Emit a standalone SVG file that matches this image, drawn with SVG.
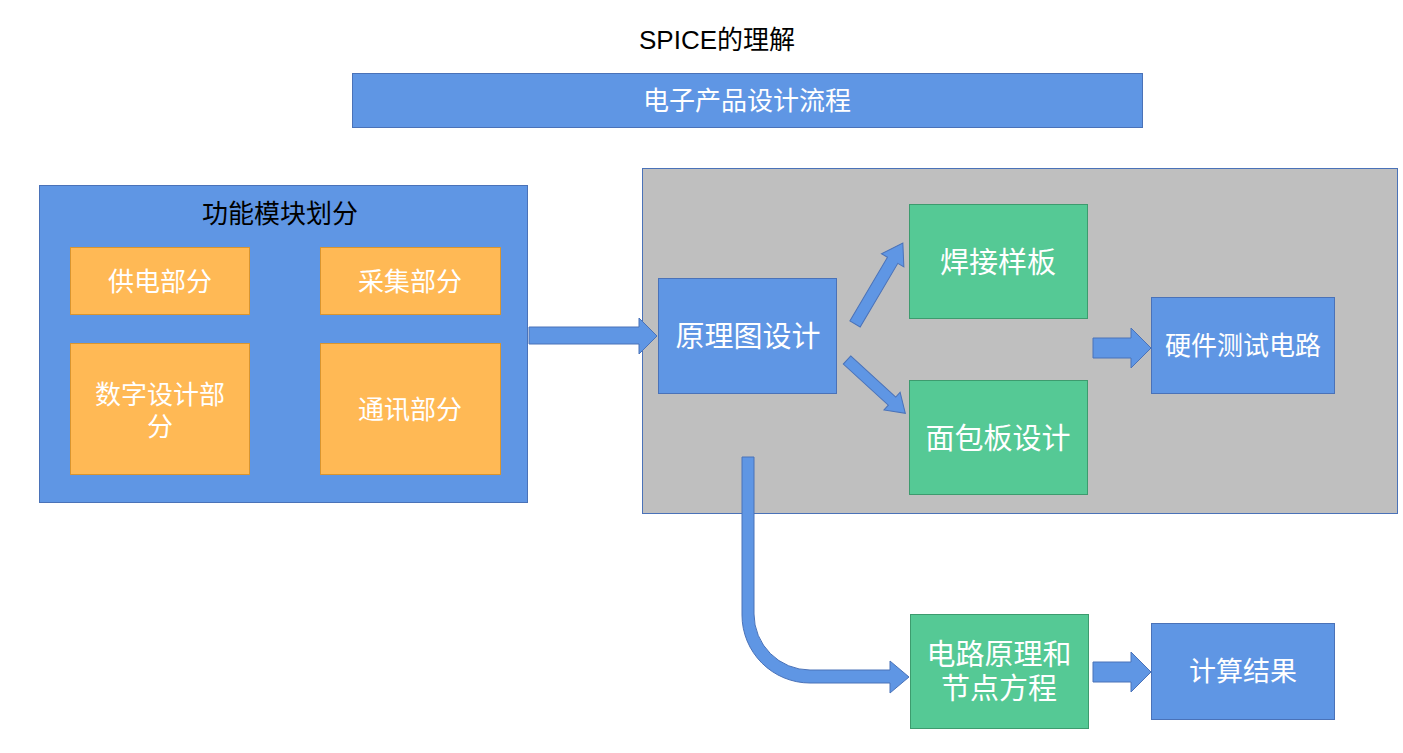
<svg xmlns="http://www.w3.org/2000/svg" width="1403" height="753" viewBox="0 0 1403 753">
<style>
.blue{fill:#5f96e4;stroke:#4a72b8;stroke-width:1}
.orange{fill:#ffb955;stroke:#d9952f;stroke-width:1}
.green{fill:#55c995;stroke:#3d9b6e;stroke-width:1}
.gray{fill:#bfbfbf;stroke:#4a72b8;stroke-width:1}
.arrow{fill:#5f96e4;stroke:#4a72b8;stroke-width:1;stroke-linejoin:miter}
text{font-family:"Noto Sans CJK SC","Liberation Sans",sans-serif;text-anchor:middle}
.w{fill:#ffffff}
.k{fill:#000000}
</style>
<rect width="1403" height="753" fill="#ffffff"/>
<g id="title"><text class="k" x="717" y="49" font-size="26" style="font-family:'Liberation Sans','Noto Sans CJK SC',sans-serif">SPICE的理解</text></g>
<g id="banner">
<rect class="blue" x="352.5" y="73.5" width="790" height="54"/>
<text class="w" x="747" y="110" font-size="26">电子产品设计流程</text>
</g>
<g id="modules">
<rect class="blue" x="39.5" y="185.5" width="488" height="317"/>
<text class="k" x="280" y="223" font-size="26">功能模块划分</text>
</g>
<g id="power">
<rect class="orange" x="70.5" y="247.5" width="179" height="67"/>
<text class="w" x="160" y="291" font-size="26">供电部分</text>
</g>
<g id="acquire">
<rect class="orange" x="320.5" y="247.5" width="180" height="67"/>
<text class="w" x="410" y="291" font-size="26">采集部分</text>
</g>
<g id="digital">
<rect class="orange" x="70.5" y="343.5" width="179" height="131"/>
<text class="w" x="160" y="404" font-size="26">数字设计部</text>
<text class="w" x="160" y="436" font-size="26">分</text>
</g>
<g id="comm">
<rect class="orange" x="320.5" y="343.5" width="180" height="131"/>
<text class="w" x="410" y="419" font-size="26">通讯部分</text>
</g>
<g id="hwgroup">
<rect class="gray" x="642.5" y="168.5" width="755" height="345"/>
</g>
<g id="schematic">
<rect class="blue" x="658.5" y="278.5" width="178" height="115"/>
<text class="w" x="748" y="347" font-size="29">原理图设计</text>
</g>
<g id="solder">
<rect class="green" x="909.5" y="204.5" width="178" height="114"/>
<text class="w" x="998" y="273" font-size="29">焊接样板</text>
</g>
<g id="breadboard">
<rect class="green" x="909.5" y="380.5" width="178" height="114"/>
<text class="w" x="998" y="449" font-size="29">面包板设计</text>
</g>
<g id="hwtest">
<rect class="blue" x="1151.5" y="297.5" width="183" height="96"/>
<text class="w" x="1243" y="355" font-size="26">硬件测试电路</text>
</g>
<g id="nodal">
<rect class="green" x="910.5" y="614.5" width="178" height="114"/>
<text class="w" x="999" y="665" font-size="29">电路原理和</text>
<text class="w" x="999" y="699" font-size="29">节点方程</text>
</g>
<g id="result">
<rect class="blue" x="1151.5" y="623.5" width="183" height="96"/>
<text class="w" x="1243" y="681" font-size="27">计算结果</text>
</g>
<g id="connectors">
<polygon class="arrow" points="529,327 639,327 639,318 657,336 639,354 639,344 529,344"/>
<polygon class="arrow" transform="translate(855,324) rotate(-59.4)" points="0,-6 74,-6 74,-13 94,0 74,13 74,6 0,6"/>
<polygon class="arrow" transform="translate(847,360) rotate(42.4)" points="0,-5.5 61,-5.5 61,-12 79,0 61,12 61,5.5 0,5.5"/>
<polygon class="arrow" points="1093,338 1131,338 1131,328 1151,348 1131,368 1131,358 1093,358"/>
<path class="arrow" d="M742,457 H754 V614 A56,56 0 0 0 810,670 H890 V661 L909,677 L890,693 V683 H810 A68,68 0 0 1 742,615 Z"/>
<polygon class="arrow" points="1093,662 1131,662 1131,652 1151,672 1131,692 1131,682 1093,682"/>
</g>
</svg>
